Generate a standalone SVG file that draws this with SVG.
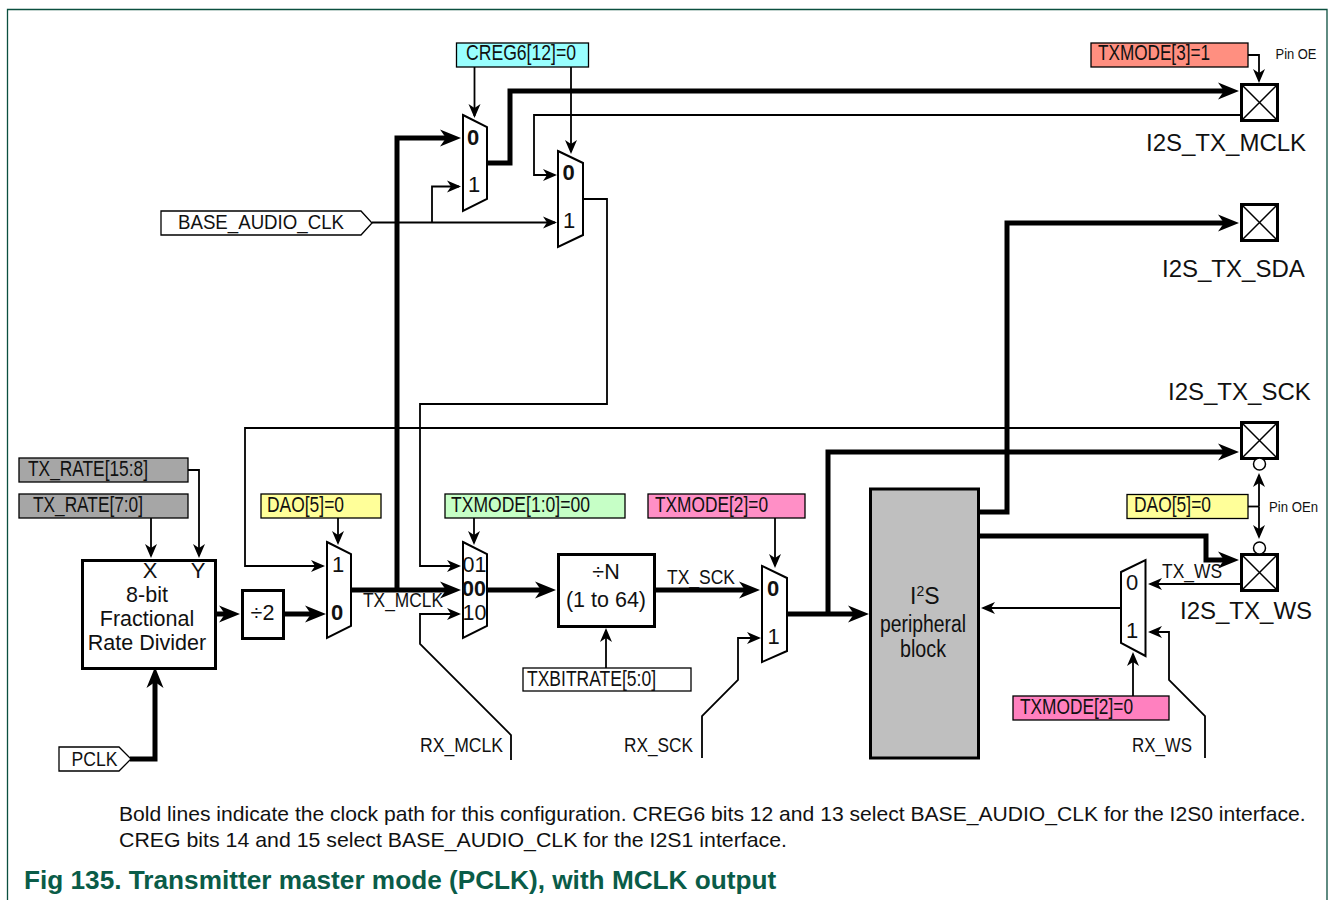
<svg xmlns="http://www.w3.org/2000/svg" width="1330" height="900" viewBox="0 0 1330 900">
<style>
text{font-family:"Liberation Sans",Arial,sans-serif;fill:#111}
.t{fill:none;stroke:#000;stroke-width:1.8}
.a{marker-end:url(#ah)}
.k{fill:none;stroke:#000;stroke-width:5}
.b{marker-end:url(#bh)}
.box{stroke:#000;stroke-width:1.3}
.blk{fill:#fff;stroke:#000;stroke-width:3}
.mux{fill:#fff;stroke:#000;stroke-width:2}
.pad{fill:#fff;stroke:#000;stroke-width:3}
.x{fill:none;stroke:#000;stroke-width:1.5}
.l{font-size:21.500px}
.s{font-size:20.500px}
.p{font-size:24px}
.m{font-size:22px}
.mb{font-size:22px;font-weight:bold}
.big{font-size:23px}
</style>
<defs>
<marker id="ah" markerUnits="userSpaceOnUse" markerWidth="16" markerHeight="16" refX="2" refY="8" orient="auto" overflow="visible"><path d="M-10,2 L4,8 L-10,14 L-6,8z" fill="#000"/></marker>
<marker id="bh" markerUnits="userSpaceOnUse" markerWidth="26" markerHeight="22" refX="0" refY="11" orient="auto" overflow="visible"><path d="M-13,2.500 L8,11 L-13,19.500 L-7,11z" fill="#000"/></marker>
</defs>
<rect width="1330" height="900" fill="#fff"/>
<path d="M7.500,900V9.500H1327V900" fill="none" stroke="#0b4f3f" stroke-width="1.300"/>
<g id="connectors">
<path class="t a" d="M474.500,67V116"/>
<path class="t a" d="M571,67V152"/>
<path class="t a" d="M1248,55H1259V81"/>
<path class="t a" d="M432,223V186.500H459"/>
<path class="t a" d="M372,222.500H555"/>
<path class="t a" d="M1241,115H534V175H555"/>
<path class="t a" d="M583,199H607V404H420V566H459"/>
<path class="t a" d="M1241,428H245V566H323"/>
<path class="t a" d="M188,470H199V556"/>
<path class="t a" d="M151,518V556"/>
<path class="t a" d="M338,518V543"/>
<path class="t a" d="M474,518V543"/>
<path class="t a" d="M775,518V566"/>
<path class="t a" d="M606,668V630"/>
<path class="t a" d="M511,760V735L420,644V614H459"/>
<path class="t a" d="M702,758V716L738,680V638H759"/>
<path class="t a" d="M1241,584H1150"/>
<path class="t a" d="M1121,608H983"/>
<path class="t a" d="M1205,758V716L1169,680V632H1150"/>
<path class="t a" d="M1133,696V654"/>
<path class="t" d="M1248,506.500H1259"/>
<path class="t a" d="M1259,506.500V475"/>
<path class="t a" d="M1259,506.500V537"/>
<path class="k b" d="M130,759H155V675"/>
<path class="k b" d="M215,614H232"/>
<path class="k b" d="M283,614H318"/>
<path class="k b" d="M351,590H453"/>
<path class="k b" d="M397,590V138H453"/>
<path class="k b" d="M487,590H548"/>
<path class="k b" d="M655,590H752"/>
<path class="k b" d="M787,614H861"/>
<path class="k b" d="M487,163H510V91H1231"/>
<path class="k b" d="M828,614V452H1231"/>
<path class="k b" d="M977,512H1007V223H1231"/>
<path class="k b" d="M977,536H1206V560H1231"/>
</g>
<g id="creg6"><rect class="box" x="456.500" y="43" width="132" height="24" fill="#99ffff"/><text class="l" x="466" y="60" textLength="110" lengthAdjust="spacingAndGlyphs">CREG6[12]=0</text></g>
<g id="txmode3"><rect class="box" x="1091" y="43" width="157" height="24" fill="#ff8f80"/><text class="l" x="1098" y="60" textLength="112" lengthAdjust="spacingAndGlyphs">TXMODE[3]=1</text></g>
<g id="base"><path class="box" d="M161,211H361L372,223L361,235H161z" fill="#fff" stroke-width="1.500"/><text class="s" x="178" y="229" textLength="166" lengthAdjust="spacingAndGlyphs">BASE_AUDIO_CLK</text></g>
<g id="mux1"><path class="mux" d="M463,115L487,127V199L463,211z"/><text class="mb" x="467" y="145">0</text><text class="m" x="468" y="192">1</text></g>
<g id="mux2"><path class="mux" d="M558,151L583,163V235L558,247z"/><text class="mb" x="562.500" y="180">0</text><text class="m" x="563" y="228">1</text></g>
<g id="pad-mclk"><rect class="pad" x="1241.500" y="84.500" width="36" height="36"/><path class="x" d="M1241.500,84.500L1277.500,120.500M1277.500,84.500L1241.500,120.500"/><text class="p" x="1146" y="151">I2S_TX_MCLK</text><text x="1275.500" y="59" font-size="15" textLength="41" lengthAdjust="spacingAndGlyphs">Pin OE</text></g>
<g id="pad-sda"><rect class="pad" x="1241.500" y="204.500" width="36" height="36"/><path class="x" d="M1241.500,204.500L1277.500,240.500M1277.500,204.500L1241.500,240.500"/><text class="p" x="1162" y="277">I2S_TX_SDA</text></g>
<g id="pad-sck"><rect class="pad" x="1241.500" y="422.500" width="36" height="36"/><path class="x" d="M1241.500,422.500L1277.500,458.500M1277.500,422.500L1241.500,458.500"/><circle cx="1259.500" cy="464" r="6" fill="#fff" stroke="#000" stroke-width="1.500"/><text class="p" x="1168" y="400">I2S_TX_SCK</text></g>
<g id="pad-ws"><rect class="pad" x="1241.500" y="554.500" width="36" height="36"/><path class="x" d="M1241.500,554.500L1277.500,590.500M1277.500,554.500L1241.500,590.500"/><circle cx="1259.500" cy="548" r="6" fill="#fff" stroke="#000" stroke-width="1.500"/><text class="p" x="1180" y="619">I2S_TX_WS</text></g>
<g id="dao-oe"><rect class="box" x="1127" y="494.500" width="121" height="24" fill="#ffff99"/><text class="l" x="1134" y="512" textLength="77" lengthAdjust="spacingAndGlyphs">DAO[5]=0</text><text x="1269" y="512" font-size="15" textLength="49" lengthAdjust="spacingAndGlyphs">Pin OEn</text></g>
<g id="txrate-hi"><rect class="box" x="19" y="458" width="169" height="24" fill="#a6a6a6"/><text class="l" x="28" y="476" textLength="120" lengthAdjust="spacingAndGlyphs">TX_RATE[15:8]</text></g>
<g id="txrate-lo"><rect class="box" x="19" y="494" width="169" height="24" fill="#a6a6a6"/><text class="l" x="33" y="512" textLength="110" lengthAdjust="spacingAndGlyphs">TX_RATE[7:0]</text></g>
<g id="frac"><rect class="blk" x="82.500" y="560.500" width="133" height="108"/><text x="150" y="578" font-size="22" text-anchor="middle">X</text><text x="198" y="578" font-size="22" text-anchor="middle">Y</text><text class="l" x="147" y="602" text-anchor="middle">8-bit</text><text class="l" x="147" y="626" text-anchor="middle">Fractional</text><text class="l" x="147" y="650" text-anchor="middle">Rate Divider</text></g>
<g id="pclk"><path class="box" d="M59,747H119L131,759L119,771H59z" fill="#fff" stroke-width="1.500"/><text class="s" x="71.500" y="766" textLength="46" lengthAdjust="spacingAndGlyphs">PCLK</text></g>
<g id="div2"><rect class="blk" x="242.500" y="590.500" width="41" height="48"/><text class="l" x="262.500" y="620" text-anchor="middle">÷2</text></g>
<g id="dao"><rect class="box" x="261" y="494" width="120" height="24" fill="#ffff99"/><text class="l" x="267" y="512" textLength="77" lengthAdjust="spacingAndGlyphs">DAO[5]=0</text></g>
<g id="mux-dao"><path class="mux" d="M327,542L351,554V626L327,638z"/><text class="m" x="332" y="572">1</text><text class="mb" x="331" y="620">0</text></g>
<g id="txmode10"><rect class="box" x="445" y="494" width="180" height="24" fill="#c6ffc6"/><text class="l" x="451" y="512" textLength="139" lengthAdjust="spacingAndGlyphs">TXMODE[1:0]=00</text></g>
<g id="mux-sel"><path class="mux" d="M463,542L487,554V626L463,638z"/><text class="l" x="462.500" y="572">01</text><text class="l" x="462" y="596" font-weight="bold">00</text><text class="l" x="462.500" y="620">10</text></g>
<g id="divn"><rect class="blk" x="558.500" y="554.500" width="96" height="72"/><text class="l" x="606" y="579" text-anchor="middle">÷N</text><text class="l" x="606" y="607" text-anchor="middle">(1 to 64)</text></g>
<g id="txbitrate"><rect class="box" x="523" y="668" width="168" height="23" fill="#fff"/><text class="l" x="527" y="686" textLength="129" lengthAdjust="spacingAndGlyphs">TXBITRATE[5:0]</text></g>
<g id="txmode2a"><rect class="box" x="648" y="494" width="157" height="24" fill="#ff8fc6"/><text class="l" x="655" y="512" textLength="113" lengthAdjust="spacingAndGlyphs">TXMODE[2]=0</text></g>
<g id="mux-sck"><path class="mux" d="M762,566L787,578V651L762,662z"/><text class="mb" x="767" y="596">0</text><text class="m" x="767.500" y="644">1</text></g>
<g id="periph"><rect x="870.500" y="489" width="108" height="269" fill="#bfbfbf" stroke="#000" stroke-width="3"/><text class="big" x="910" y="604">I<tspan font-size="14" dy="-8">2</tspan><tspan dy="8">S</tspan></text><text class="big" x="880" y="632" textLength="86" lengthAdjust="spacingAndGlyphs">peripheral</text><text class="big" x="900" y="657" textLength="46" lengthAdjust="spacingAndGlyphs">block</text></g>
<g id="mux-ws"><path class="mux" d="M1121,572L1145.500,560V656L1121,643z"/><text class="m" x="1126" y="590">0</text><text class="m" x="1126" y="638">1</text></g>
<g id="txmode2b"><rect class="box" x="1013" y="696" width="156" height="24" fill="#ff80bf"/><text class="l" x="1020" y="714" textLength="113" lengthAdjust="spacingAndGlyphs">TXMODE[2]=0</text></g>
<g id="labels">
<text class="s" x="363" y="607" textLength="80" lengthAdjust="spacingAndGlyphs">TX_MCLK</text>
<text class="s" x="667" y="584" textLength="68" lengthAdjust="spacingAndGlyphs">TX_SCK</text>
<text class="s" x="1162" y="578" textLength="60" lengthAdjust="spacingAndGlyphs">TX_WS</text>
<text class="s" x="420" y="752" textLength="83" lengthAdjust="spacingAndGlyphs">RX_MCLK</text>
<text class="s" x="624" y="752" textLength="69" lengthAdjust="spacingAndGlyphs">RX_SCK</text>
<text class="s" x="1132" y="752" textLength="60" lengthAdjust="spacingAndGlyphs">RX_WS</text>
<text x="119" y="821" font-size="21.100">Bold lines indicate the clock path for this configuration. CREG6 bits 12 and 13 select BASE_AUDIO_CLK for the I2S0 interface.</text>
<text x="119" y="847" font-size="21.100" textLength="668" lengthAdjust="spacingAndGlyphs">CREG bits 14 and 15 select BASE_AUDIO_CLK for the I2S1 interface.</text>
<text x="24" y="889" font-size="26.200" font-weight="bold" style="fill:#0a5c48">Fig 135. Transmitter master mode (PCLK), with MCLK output</text>
</g>
</svg>
